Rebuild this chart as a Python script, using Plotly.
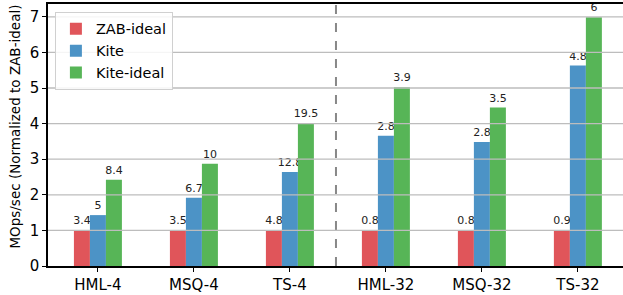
import plotly.graph_objects as go

categories = ["HML-4", "MSQ-4", "TS-4", "HML-32", "MSQ-32", "TS-32"]
series_names = ["ZAB-ideal", "Kite", "Kite-ideal"]
zab_ideal = [1.0, 1.0, 1.0, 1.0, 1.0, 1.0]
kite = [1.43, 1.92, 2.64, 3.66, 3.48, 5.63]
kite_ideal = [2.42, 2.87, 4.01, 5.02, 4.45, 6.99]
zab_labels = ["3.4", "3.5", "4.8", "0.8", "0.8", "0.9"]
kite_labels = ["5", "6.7", "12.8", "2.8", "2.8", "4.8"]
kite_ideal_labels = ["8.4", "10", "19.5", "3.9", "3.5", "6"]
y_ticks = [0, 1, 2, 3, 4, 5, 6, 7]
y_title = "MOps/sec (Normalized to ZAB-ideal)"

colors = ["#E0555A", "#4C93C6", "#57B557"]
FONT = "DejaVu Sans"

fig = go.Figure()
for name, vals, labs, col in zip(series_names, [zab_ideal, kite, kite_ideal],
                                 [zab_labels, kite_labels, kite_ideal_labels], colors):
    fig.add_trace(go.Bar(
        x=list(range(len(categories))), y=vals, name=name,
        marker=dict(color=col, line=dict(width=0)),
        text=labs, textposition="outside", cliponaxis=False, constraintext="none",
        textfont=dict(family=FONT, size=11, color="#222"),
    ))

fig.add_shape(type="line", x0=2.48, x1=2.48, y0=0, y1=1, yref="paper",
              line=dict(color="#888888", width=2, dash="dash"), layer="above")

# gridlines drawn above bars as in the reference
for t in y_ticks[1:]:
    fig.add_shape(type="line", x0=0, x1=1, xref="paper", y0=t, y1=t,
                  line=dict(color="#BDBDBD", width=1.3), layer="above")

fig.add_annotation(text=y_title, textangle=-90, xref="paper", yref="paper",
                   x=-0.0575, y=0.532, xanchor="center", yanchor="middle", showarrow=False,
                   font=dict(family=FONT, size=13.5, color="black"))

fig.update_layout(
    width=623, height=295,
    margin=dict(l=48, r=0, t=4, b=29),
    plot_bgcolor="white", paper_bgcolor="white",
    barmode="group", bargap=0.5, bargroupgap=0,
    font=dict(family=FONT, size=15, color="black"),
    showlegend=True,
    legend=dict(x=0.012, y=0.97, xanchor="left", yanchor="top",
                bgcolor="rgba(255,255,255,0.85)", bordercolor="#D0D0D0", borderwidth=1,
                font=dict(family=FONT, size=14.5), itemwidth=30, tracegroupgap=2),
)
fig.update_xaxes(
    tickmode="array", tickvals=list(range(len(categories))), ticktext=categories,
    range=[-0.52, 5.47], showgrid=False, zeroline=False,
    showline=True, linecolor="black", linewidth=1.5, mirror=True,
    ticks="outside", ticklen=4, tickwidth=1.2, tickcolor="black",
    tickfont=dict(family=FONT, size=15),
)
fig.update_yaxes(
    range=[0, 7.36], tickvals=y_ticks, showgrid=False, zeroline=False,
    showline=True, linecolor="black", linewidth=1.5,
    ticks="outside", ticklen=4, tickwidth=1.2, tickcolor="black",
    tickfont=dict(family=FONT, size=15),
)

fig.write_html("out.html", config={"displayModeBar": False},
               post_script="document.body.style.margin='0';document.body.style.overflow='hidden';")
